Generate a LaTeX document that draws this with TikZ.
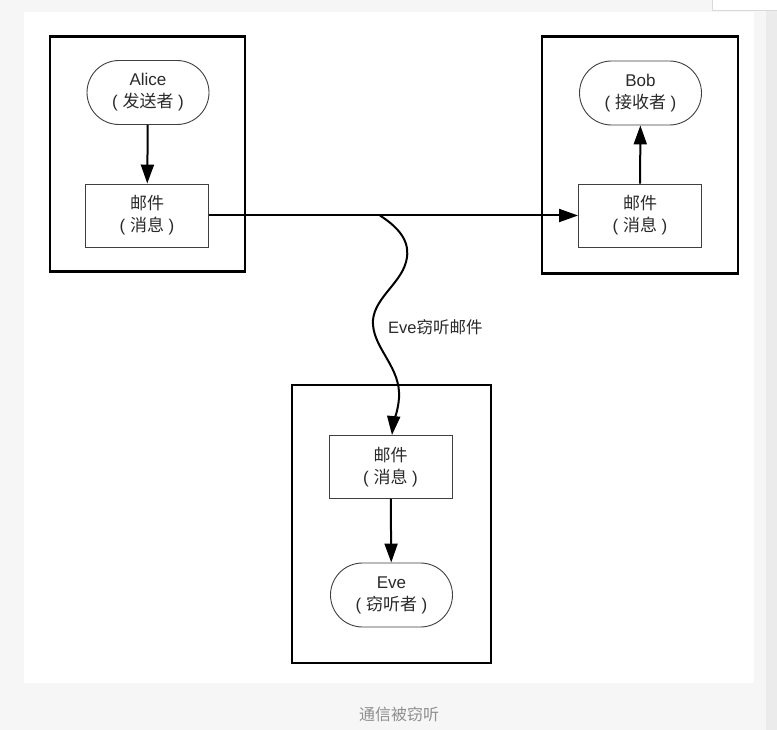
\documentclass[tikz,border=0pt]{standalone}
\usepackage{fontspec}
\setmainfont{Liberation Sans}
\newfontfamily\cjk{Noto Sans CJK SC}
\usetikzlibrary{arrows.meta,shapes.misc}
\definecolor{pagebg}{HTML}{F6F6F6}
\definecolor{txt}{HTML}{2A2A2A}
\definecolor{captxt}{HTML}{8F8F8F}
\tikzset{
  outerbox/.style={draw=black,line width=2.4pt,minimum width=#1,inner sep=0pt},
  mailbox/.style={draw=black!75,line width=0.9pt,minimum width=123pt,minimum height=63pt,inner sep=0pt,align=center,text=txt,font=\fontsize{17}{22}\selectfont},
  actor/.style={rounded rectangle,draw=black!75,line width=0.9pt,minimum width=122pt,minimum height=64pt,inner sep=0pt,align=center,text=txt,font=\fontsize{17}{22}\selectfont},
  flow/.style={line width=2pt,-{Triangle[length=19pt,width=13pt]}},
  lbl/.style={text=txt,font=\fontsize{16.5}{19}\selectfont,inner sep=0pt}
}
\begin{document}
\begin{tikzpicture}[x=1pt,y=-1pt]
\useasboundingbox (0,0) rectangle (777,730);
\fill[pagebg] (0,0) rectangle (777,730);
\fill[white] (24,12) rectangle (754,683);
\fill[black!8] (766,0) rectangle (777,730);
\draw[black!15,fill=white] (712,-2) rectangle (777,10);
% outer boxes
\node[outerbox=195pt,minimum height=235pt] (abox) at (147.5,154) {};
\node[outerbox=196pt,minimum height=237pt] (bbox) at (640,155) {};
\node[outerbox=199pt,minimum height=278pt] (ebox) at (391.5,524) {};
% Alice
\node[actor] (alice) at (148,92.5) {Alice\\( {\cjk 发送者} )};
\node[mailbox] (amail) at (147,215.5) {{\cjk 邮件}\\( {\cjk 消息} )};
% Bob
\node[actor] (bob) at (640.5,93) {Bob\\( {\cjk 接收者} )};
\node[mailbox] (bmail) at (640,215.5) {{\cjk 邮件}\\( {\cjk 消息} )};
% Eve
\node[mailbox] (email) at (390.5,467) {{\cjk 邮件}\\( {\cjk 消息} )};
\node[actor] (eve) at (391.5,595) {Eve\\( {\cjk 窃听者} )};
% connectors
\draw[flow] (alice) -- (amail);
\draw[flow] (bmail) -- (bob);
\draw[flow] (email) -- (eve);
\draw[flow] (amail.east) -- (bmail.west);
\coordinate (tap) at (380,215.5);
\coordinate (etop) at (email.north -| 392,0);
\draw[flow] (tap) .. controls (396,226) and (412,240) .. (406,262)
  .. controls (400,285) and (371,300) .. (373,325)
  .. controls (375,350) and (401,368) .. (399,398)
  .. controls (398,412) and (393,424) .. (etop);
\node[lbl,anchor=west] (tlabel) at (388,327) {Eve{\cjk 窃听邮件}};
\node[text=captxt,font=\cjk\fontsize{16}{18}\selectfont,inner sep=0pt] (caption) at (399,714) {通信被窃听};
\end{tikzpicture}
\end{document}
